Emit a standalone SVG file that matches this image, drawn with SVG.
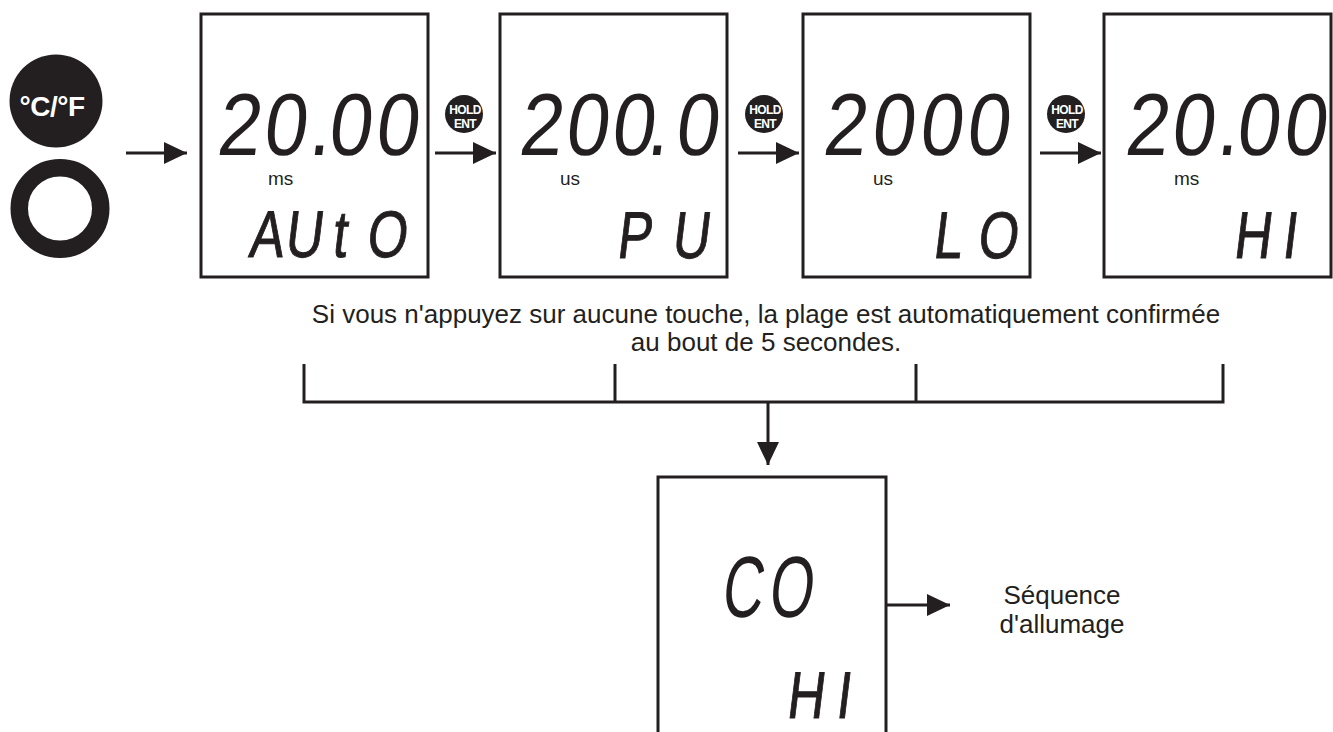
<svg xmlns="http://www.w3.org/2000/svg" width="1333" height="732" viewBox="0 0 1333 732">
<defs>
<style>
.box{fill:#fff;stroke:#231f20;stroke-width:3}
.seg{font-family:"Liberation Sans",Arial,sans-serif;fill:#231f20}
.seg1{font-size:88px}
.seg2{font-size:66px;stroke:#231f20;stroke-width:1}
.unit{font-family:"Liberation Sans",Arial,sans-serif;font-size:19px;fill:#231f20}
.lbl{font-family:"Liberation Sans",Arial,sans-serif;font-size:26px;fill:#231f20;text-anchor:middle}
.btn{fill:#231f20}
.btxt{font-family:"Liberation Sans",Arial,sans-serif;font-weight:bold;fill:#fff;text-anchor:middle;font-size:12px;letter-spacing:-0.6px}
.ln{stroke:#231f20;stroke-width:3;fill:none}
</style>
<marker id="ah" viewBox="0 0 23 22" refX="23" refY="11" markerWidth="23" markerHeight="22" markerUnits="userSpaceOnUse" orient="auto">
<path d="M0,0 L23,11 L0,22 z" fill="#231f20"/>
</marker>
</defs>
<rect width="1333" height="732" fill="#fff"/>

<g id="key-cf">
<circle cx="56" cy="101" r="46.5" fill="#231f20"/>
<text x="52" y="116" font-family="Liberation Sans,Arial,sans-serif" font-weight="bold" font-size="28" fill="#fff" text-anchor="middle" letter-spacing="-0.5">°C/°F</text>
</g>
<g id="key-ring">
<circle cx="60" cy="208.5" r="40.75" fill="none" stroke="#231f20" stroke-width="17.5"/>
</g>

<g id="display-auto">
<rect class="box" x="201" y="14" width="227" height="263"/>
<text class="seg seg1" transform="translate(218,155) skewX(-7) scale(0.88,1)" x="-2.6 49.7 102.1 123.6 177">20.00</text>
<text class="unit" x="268" y="185">ms</text>
<text class="seg seg2" transform="translate(248,257) skewX(-7) scale(0.78,1)" x="0 46.1 106.6 150.6">AUtO</text>
</g>

<g id="display-pu">
<rect class="box" x="500" y="14" width="227" height="263"/>
<text class="seg seg1" transform="translate(520,155) skewX(-7) scale(0.88,1)" x="-2.6 49.7 102 143 174.7">200.0</text>
<text class="unit" x="560" y="185">us</text>
<text class="seg seg2" transform="translate(620,258) skewX(-7) scale(0.78,1)" x="-5.2 65.3">PU</text>
</g>

<g id="display-lo">
<rect class="box" x="803" y="14" width="227" height="263"/>
<text class="seg seg1" transform="translate(824,155) skewX(-7) scale(0.88,1)" x="-2.6 52 106.5 160">2000</text>
<text class="unit" x="873" y="185">us</text>
<text class="seg seg2" transform="translate(936,258) skewX(-7) scale(0.78,1)" x="-4.8 51.9">LO</text>
</g>

<g id="display-hi">
<rect class="box" x="1104" y="14" width="227" height="263"/>
<text class="seg seg1" transform="translate(1126,155) skewX(-7) scale(0.88,1)" x="-2.6 49.7 102.1 123.6 177">20.00</text>
<text class="unit" x="1174" y="185">ms</text>
<text class="seg seg2" transform="translate(1237,258) skewX(-7) scale(0.78,1)" x="-5.3 56.6">HI</text>
</g>

<g id="btn-hold-1">
<circle class="btn" cx="464" cy="114" r="19"/>
<text class="btxt" x="465" y="113.5">HOLD</text>
<text class="btxt" x="465" y="127.5">ENT</text>
</g>
<g id="btn-hold-2">
<circle class="btn" cx="764" cy="114" r="19"/>
<text class="btxt" x="765" y="113.5">HOLD</text>
<text class="btxt" x="765" y="127.5">ENT</text>
</g>
<g id="btn-hold-3">
<circle class="btn" cx="1066" cy="114" r="19"/>
<text class="btxt" x="1067" y="113.5">HOLD</text>
<text class="btxt" x="1067" y="127.5">ENT</text>
</g>

<g id="note">
<text class="lbl" x="766" y="323" font-size="26.5">Si vous n'appuyez sur aucune touche, la plage est automatiquement confirmée</text>
<text class="lbl" x="766" y="351" font-size="26.5">au bout de 5 secondes.</text>
</g>

<g id="display-co">
<rect class="box" x="658" y="477" width="228" height="300"/>
<text class="seg" font-size="87" transform="translate(723,617) skewX(-7) scale(0.65,1)" x="-4.4 68.1">CO</text>
<text class="seg seg2" font-size="67" transform="translate(790,718) skewX(-7) scale(0.78,1)" x="-5.4 57.8">HI</text>
</g>

<g id="label-sequence">
<text class="lbl" x="1062" y="604">Séquence</text>
<text class="lbl" x="1062" y="633">d'allumage</text>
</g>

<g id="connectors">
<line class="ln" x1="126" y1="153" x2="187" y2="153" marker-end="url(#ah)"/>
<line class="ln" x1="435" y1="153" x2="496" y2="153" marker-end="url(#ah)"/>
<line class="ln" x1="738" y1="153" x2="799" y2="153" marker-end="url(#ah)"/>
<line class="ln" x1="1040" y1="153" x2="1101" y2="153" marker-end="url(#ah)"/>
<path class="ln" d="M304,364 V402 H1223 V364 M615,364 V402 M916,364 V402"/>
<line class="ln" x1="768" y1="402" x2="768" y2="465" marker-end="url(#ah)"/>
<line class="ln" x1="886" y1="605" x2="950" y2="605" marker-end="url(#ah)"/>
</g>
</svg>
